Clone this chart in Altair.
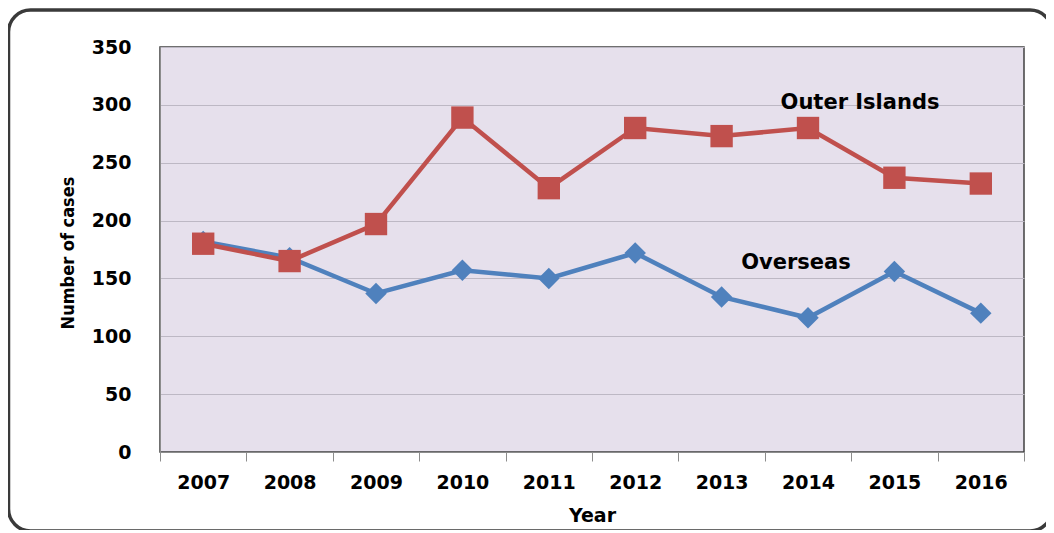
import altair as alt
import pandas as pd

years = ["2007", "2008", "2009", "2010", "2011", "2012", "2013", "2014", "2015", "2016"]
outer_islands = [180, 165, 197, 289, 228, 280, 273, 280, 237, 232]
overseas = [182, 168, 137, 157, 150, 172, 134, 116, 156, 120]

label_text = ["Outer Islands", "Overseas"]
label_year = ["2014", "2014"]
label_value = [302, 163]
label_dx = [52, -12]

W, H = 864, 405

df_out = pd.DataFrame({"Year": years, "Cases": outer_islands})
df_ovs = pd.DataFrame({"Year": years, "Cases": overseas})
df_lab = pd.DataFrame({"label": label_text, "Year": label_year, "Cases": label_value})

x_enc = alt.X(
    "Year:N",
    sort=years,
    scale=alt.Scale(type="band", paddingInner=0, paddingOuter=0),
    axis=alt.Axis(
        title="Year",
        labelAngle=0,
        tickBand="extent",
        tickSize=9,
        tickColor="#8C8C8C",
        domainColor="#8C8C8C",
        labelPadding=12,
        labelFont="DejaVu Sans",
        labelFontWeight="bold",
        labelFontSize=19,
        labelColor="#000000",
        titleFont="DejaVu Sans",
        titleFontWeight="bold",
        titleFontSize=19,
        titleColor="#000000",
        titleY=54,
        titleBaseline="top",
        grid=False,
    ),
)
y_enc = alt.Y(
    "Cases:Q",
    scale=alt.Scale(domain=[0, 350], nice=False),
    axis=alt.Axis(
        title="Number of cases",
        values=[0, 50, 100, 150, 200, 250, 300, 350],
        tickSize=0,
        labelPadding=29,
        domainColor="#8C8C8C",
        gridColor="#BDB8C4",
        gridWidth=1.2,
        labelFont="DejaVu Sans",
        labelFontWeight="bold",
        labelFontSize=19,
        labelColor="#000000",
        titleFont="DejaVu Sans Condensed",
        titleFontWeight="bold",
        titleFontSize=18,
        titleColor="#000000",
        titleX=-92,
        titleY=H / 2 + 3,
        titleBaseline="middle",
    ),
)

ovs_line = alt.Chart(df_ovs).mark_line(
    color="#4F81BD", strokeWidth=4.5,
    point=alt.OverlayMarkDef(shape="diamond", size=460, filled=True, color="#4F81BD"),
).encode(x=x_enc, y=y_enc)

out_line = alt.Chart(df_out).mark_line(
    color="#C0504D", strokeWidth=4.5,
    point=alt.OverlayMarkDef(shape="square", size=500, filled=True, color="#C0504D"),
).encode(x=x_enc, y=y_enc)

lab1 = alt.Chart(df_lab.iloc[[0]]).mark_text(
    font="DejaVu Sans", fontWeight="bold", fontSize=21, color="#000000",
    align="center", baseline="middle", dx=label_dx[0]
).encode(x=alt.X("Year:N", sort=years), y="Cases:Q", text="label:N")

lab2 = alt.Chart(df_lab.iloc[[1]]).mark_text(
    font="DejaVu Sans", fontWeight="bold", fontSize=21, color="#000000",
    align="center", baseline="middle", dx=label_dx[1]
).encode(x=alt.X("Year:N", sort=years), y="Cases:Q", text="label:N")

border = alt.Chart(pd.DataFrame({"a": [0]})).mark_rect(
    fill="transparent", stroke="#3A3A3A", strokeWidth=3.5, cornerRadius=22
).encode(
    x=alt.value(-151.5), x2=alt.value(892), y=alt.value(-37), y2=alt.value(484)
)

chart = alt.layer(border, ovs_line, out_line, lab1, lab2).properties(
    width=W, height=H,
    background="#FFFFFF",
    autosize=alt.AutoSizeParams(type="none"),
    padding={"left": 152, "top": 39, "right": 22, "bottom": 78},
).configure_view(
    fill="#E6E0EC", stroke="#404040", strokeWidth=1.5
)

chart.save("out.html", embed_options={"renderer": "svg", "actions": False})
